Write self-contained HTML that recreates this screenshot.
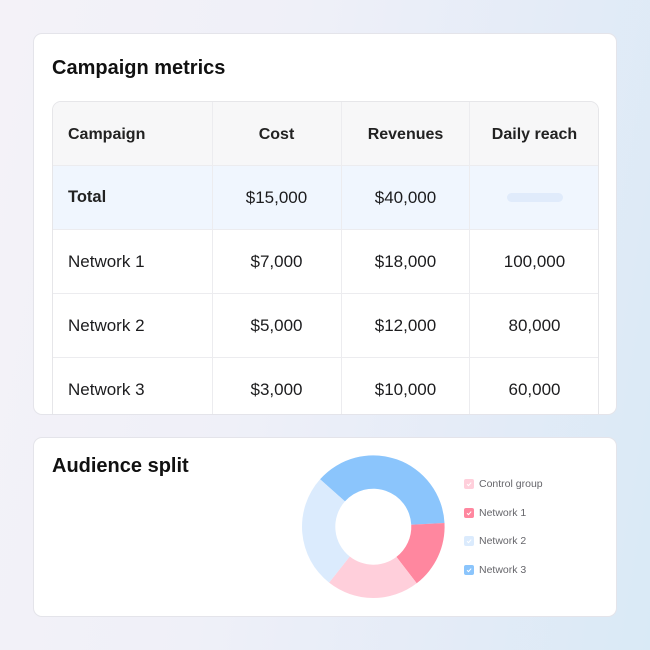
<!DOCTYPE html>
<html><head><meta charset="utf-8">
<style>
*{margin:0;padding:0;box-sizing:border-box}
html,body{width:650px;height:650px;overflow:hidden}
body{position:relative;font-family:"Liberation Sans",Arial,sans-serif;color:#1c1c1e;
background:linear-gradient(100deg,#f4f2f8 0%,#eff0f8 40%,#e3ebf7 75%,#d9eaf6 100%);}
.card{position:absolute;left:33px;width:584px;background:#fff;border:1px solid #e4e4ea;border-radius:9px;overflow:hidden}
.title{position:absolute;left:18px;font-size:20px;font-weight:bold;line-height:20px;color:#111;white-space:nowrap}
.tbl{position:absolute;left:18px;top:67px;width:547px;height:340px;border:1px solid #e6e6e9;border-radius:9px 9px 0 0;overflow:hidden}
.row{position:absolute;left:0;width:545px;height:64px;border-bottom:1px solid #ececef}
.cell{position:absolute;top:0;height:63px;display:flex;align-items:center;justify-content:center;font-size:17px;white-space:nowrap}
.c0{left:0;width:159px;justify-content:flex-start;padding-left:15px}
.c1{left:159px;width:129px}
.c2{left:288px;width:129px}
.c3{left:417px;width:129px}
.vl{position:absolute;top:0;width:1px;height:340px;background:#ececef}
.hd .cell{font-size:16px;font-weight:bold;padding-top:3px;color:#222}
.lg{position:absolute;left:464px;width:10px;height:10px;border-radius:2px}
.lg svg{position:absolute;left:0;top:0}
.lt{position:absolute;left:479px;font-size:10.5px;color:#66666b;line-height:12px;white-space:nowrap}
</style></head><body>

<div class="card" style="top:33px;height:382px">
  <div class="title" style="top:24px">Campaign metrics</div>
  <div class="tbl">
    <div class="row hd" style="top:0;background:#f7f7f8">
      <div class="cell c0">Campaign</div><div class="cell c1">Cost</div><div class="cell c2">Revenues</div><div class="cell c3">Daily reach</div>
    </div>
    <div class="row" style="top:64px;background:#f0f6fe">
      <div class="cell c0" style="font-weight:bold;font-size:16.5px;color:#222">Total</div><div class="cell c1">$15,000</div><div class="cell c2">$40,000</div>
      <div class="cell c3"><div style="width:56px;height:9px;border-radius:5px;background:#e0ebfb"></div></div>
    </div>
    <div class="row" style="top:128px">
      <div class="cell c0">Network 1</div><div class="cell c1">$7,000</div><div class="cell c2">$18,000</div><div class="cell c3">100,000</div>
    </div>
    <div class="row" style="top:192px">
      <div class="cell c0">Network 2</div><div class="cell c1">$5,000</div><div class="cell c2">$12,000</div><div class="cell c3">80,000</div>
    </div>
    <div class="row" style="top:256px">
      <div class="cell c0">Network 3</div><div class="cell c1">$3,000</div><div class="cell c2">$10,000</div><div class="cell c3">60,000</div>
    </div>
    <div class="vl" style="left:159px"></div>
    <div class="vl" style="left:288px"></div>
    <div class="vl" style="left:416px"></div>
  </div>
</div>

<div class="card" style="top:437px;height:180px">
  <div class="title" style="top:18px">Audience split</div>
</div>

<svg style="position:absolute;left:0;top:0" width="650" height="650" viewBox="0 0 650 650">
  <path d="M320.07,479.27 A71.3,71.3 0 0 1 444.50,522.97 L411.25,524.71 A38,38 0 0 0 344.93,501.42 Z" fill="#8bc5fc"/>
  <path d="M444.50,522.97 A71.3,71.3 0 0 1 416.70,583.27 L396.43,556.85 A38,38 0 0 0 411.25,524.71 Z" fill="#ff879f"/>
  <path d="M416.70,583.27 A71.3,71.3 0 0 1 329.12,582.66 L349.75,556.52 A38,38 0 0 0 396.43,556.85 Z" fill="#ffcfdb"/>
  <path d="M329.12,582.66 A71.3,71.3 0 0 1 320.07,479.27 L344.93,501.42 A38,38 0 0 0 349.75,556.52 Z" fill="#dbebfd"/>
</svg>

<div class="lg" style="top:479px;background:#ffcfdb"><svg width="10" height="10"><path d="M3,5.2 L4.5,6.6 L7.2,3.6" stroke="#fff" stroke-width="1" fill="none"/></svg></div>
<div class="lt" style="top:478px">Control group</div>
<div class="lg" style="top:508px;background:#ff879f"><svg width="10" height="10"><path d="M3,5.2 L4.5,6.6 L7.2,3.6" stroke="#fff" stroke-width="1" fill="none"/></svg></div>
<div class="lt" style="top:507px">Network 1</div>
<div class="lg" style="top:536px;background:#dbebfd"><svg width="10" height="10"><path d="M3,5.2 L4.5,6.6 L7.2,3.6" stroke="#fff" stroke-width="1" fill="none"/></svg></div>
<div class="lt" style="top:535px">Network 2</div>
<div class="lg" style="top:565px;background:#8bc5fc"><svg width="10" height="10"><path d="M3,5.2 L4.5,6.6 L7.2,3.6" stroke="#fff" stroke-width="1" fill="none"/></svg></div>
<div class="lt" style="top:564px">Network 3</div>

</body></html>
